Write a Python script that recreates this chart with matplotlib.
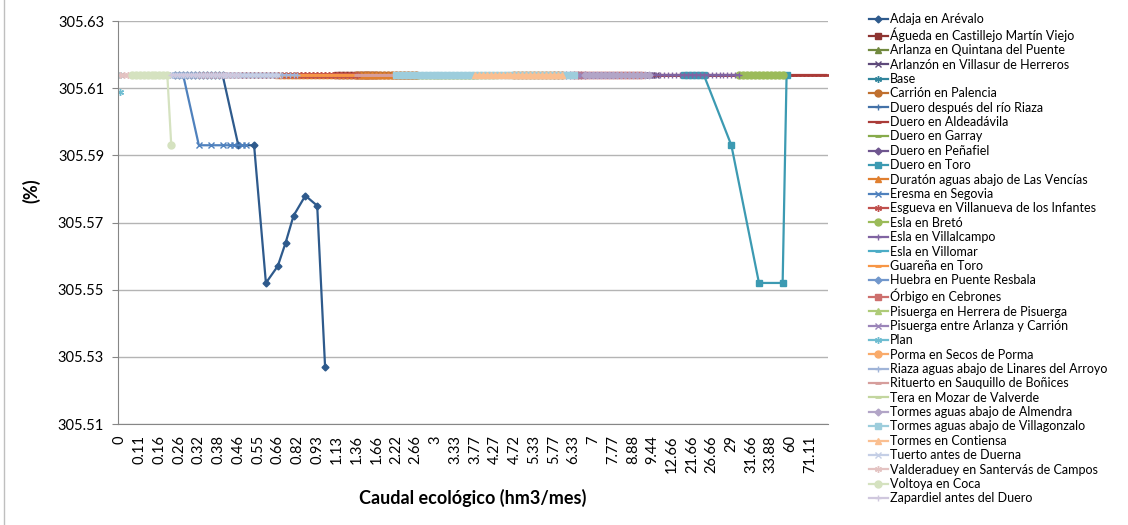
import numpy as np
import matplotlib
matplotlib.use("Agg")
import matplotlib.pyplot as plt
from matplotlib.lines import Line2D

plt.rcParams['font.family'] = ['Lato', 'DejaVu Sans']

# x categories: only every 5th category carries a visible label
x_labels = ["0", "0.11", "0.16", "0.26", "0.32", "0.38", "0.46", "0.55", "0.66", "0.82",
            "0.93", "1.13", "1.36", "1.66", "2.22", "2.66", "3", "3.33", "3.77", "4.27",
            "4.72", "5.33", "5.77", "6.33", "7", "7.77", "8.88", "9.44", "12.66", "21.66",
            "26.66", "29", "31.66", "33.88", "60", "71.11"]
cats_per_label = 5
n_cat = len(x_labels) * cats_per_label

names = ["Adaja en Arévalo", "Águeda en Castillejo Martín Viejo", "Arlanza en Quintana del Puente",
         "Arlanzón en Villasur de Herreros", "Base", "Carrión en Palencia",
         "Duero después del río Riaza", "Duero en Aldeadávila", "Duero en Garray",
         "Duero en Peñafiel", "Duero en Toro", "Duratón aguas abajo de Las Vencías",
         "Eresma en Segovia", "Esgueva en Villanueva de los Infantes", "Esla en Bretó",
         "Esla en Villalcampo", "Esla en Villomar", "Guareña en Toro", "Huebra en Puente Resbala",
         "Órbigo en Cebrones", "Pisuerga en Herrera de Pisuerga", "Pisuerga entre Arlanza y Carrión",
         "Plan", "Porma en Secos de Porma", "Riaza aguas abajo de Linares del Arroyo",
         "Rituerto en Sauquillo de Boñices", "Tera en Mozar de Valverde",
         "Tormes aguas abajo de Almendra", "Tormes aguas abajo de Villagonzalo",
         "Tormes en Contiensa", "Tuerto antes de Duerna", "Valderaduey en Santervás de Campos",
         "Voltoya en Coca", "Zapardiel antes del Duero"]

colors = ["#2E5A8C", "#8E3431", "#71893F", "#5E4A7A", "#31859C", "#C0702F",
          "#4472A8", "#AA3B38", "#87AB4B", "#6E558F", "#3C9AB2", "#E07F2F",
          "#4F81BD", "#C0504D", "#9BBB59", "#8064A2", "#4BACC6", "#F79646",
          "#7197CC", "#CD6F6D", "#AECB78", "#9B85B9", "#6FBDD1", "#F9AB6B",
          "#A0B4D8", "#D69E9C", "#C3D69F", "#B2A5C7", "#9DCDDC", "#FABF91",
          "#C5CFE6", "#E4C3C2", "#D5E2C0", "#D0C8DE"]

# Excel marker cycle: diamond, square, triangle, x, star, circle, plus, dash, long dash
marker_cycle = ["D", "s", "^", "x", (6, 2, 0), "o", "+", "_", "_"]

flat_value = 305.614
# category ranges (first, last) where each series sits on the flat value
flat_ranges = [[(14, 26)], [(55, 65)], [(70, 90)], [(125, 136)], [(0, 0)], [(60, 75)],
               [(20, 50)], [(50, 179)], [(85, 95)], [(110, 118)], [(143, 148)], [(40, 75)],
               [(10, 16)], [(20, 60)], [(157, 168)], [(134, 157)], [(95, 110)], [(30, 70)],
               [(100, 112)], [(115, 132)], [(75, 95)], [(112, 125)], [], [(100, 112)],
               [(14, 45)], [(60, 80)], [(80, 90)], [(118, 134)], [(70, 115)], [(90, 112)],
               [(13, 40)], [(0, 3)], [(3, 12)], [(13, 30)]]

# points that leave the flat line
adaja_idx = [30, 34, 37, 40, 42, 44, 47, 50, 52]
adaja_val = [305.593, 305.593, 305.552, 305.557, 305.564, 305.572, 305.578, 305.575, 305.527]
eresma_idx = [20, 23, 26, 28, 29, 31, 32]
eresma_val = [305.593] * 7
toro_idx = [155, 162, 168, 169]
toro_val = [305.593, 305.552, 305.552, 305.614]
voltoya_idx = [13]
voltoya_val = [305.593]
plan_idx = [0]
plan_val = [305.609]

extra = {0: (adaja_idx, adaja_val), 12: (eresma_idx, eresma_val),
         10: (toro_idx, toro_val), 32: (voltoya_idx, voltoya_val), 22: (plan_idx, plan_val)}

fig = plt.figure(figsize=(11.28, 5.25), dpi=100)
ax = fig.add_axes([118 / 1128, 1 - 424 / 525, (828 - 118) / 1128, (424 - 21) / 525])

handles = []
for i, name in enumerate(names):
    xs, ys = [], []
    for a, b in flat_ranges[i]:
        xs += list(range(a, b + 1))
        ys += [flat_value] * (b - a + 1)
    if i in extra:
        xs += extra[i][0]
        ys += extra[i][1]
    order = np.argsort(xs, kind="stable")
    xs = np.array(xs)[order]
    ys = np.array(ys)[order]
    m = marker_cycle[i % 9]
    ms, mew = 5, 1
    if m == "s":
        ms = 4.5
    elif m == "D":
        ms = 3.5
    elif m == "_":
        mew = 2
    kw = dict(color=colors[i], lw=1.6, marker=m, ms=ms, mew=mew,
              mfc=colors[i], mec=colors[i])
    ax.plot(xs, ys, **kw)
    handles.append(Line2D([], [], label=name, **kw))

ax.set_xlim(-0.5, n_cat - 0.5)
ax.set_ylim(305.51, 305.63)
ax.set_yticks(np.arange(305.51, 305.631, 0.02))
ax.yaxis.set_major_formatter(matplotlib.ticker.FormatStrFormatter("%.2f"))
ax.set_xticks(np.arange(0, n_cat, cats_per_label))
ax.set_xticklabels(x_labels, rotation=90, fontsize=10.5)
ax.tick_params(axis="y", labelsize=10.5, length=4, color="#868686", pad=6)
ax.tick_params(axis="x", length=0, pad=8)
ax.grid(axis="y", color="#B4B4B4", lw=1)
ax.set_axisbelow(True)
for s in ["top", "right"]:
    ax.spines[s].set_visible(False)
for s in ["left", "bottom"]:
    ax.spines[s].set_color("#868686")

ax.set_ylabel("(%)", fontsize=13, fontweight="bold")
ax.yaxis.set_label_coords(-0.11, 0.58)
ax.set_xlabel("Caudal ecológico (hm3/mes)", fontsize=13, fontweight="bold", labelpad=12)

fig.legend(handles=handles, loc="upper left", bbox_to_anchor=(864 / 1128, 1 - 8 / 525),
           frameon=False, fontsize=9, labelspacing=0.19, handlelength=1.5,
           handletextpad=0.15, borderaxespad=0)

fig.add_artist(Line2D([4 / 1128, 4 / 1128], [0, 1], transform=fig.transFigure,
                      color="#BFBFBF", lw=1))

fig.savefig("out.png", dpi=100)
